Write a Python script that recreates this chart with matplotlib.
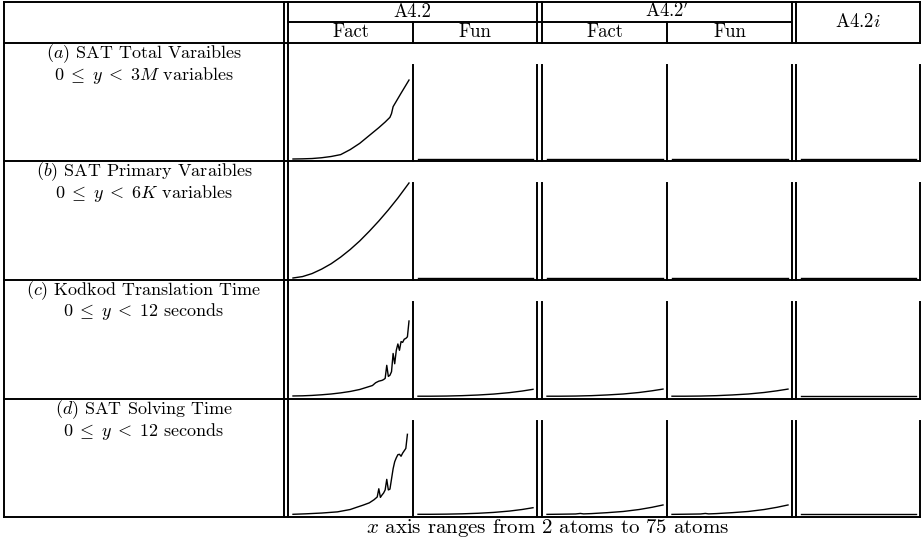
import matplotlib
matplotlib.use("Agg")
import matplotlib.pyplot as plt
from matplotlib.lines import Line2D

# Размер картинки в пикселях
W = 922
H = 540

# Заголовки таблицы
group_labels = ['A4.2', r'A4.2$^{\prime}$', r'A4.2$i$']
sub_labels = ['Fact', 'Fun', 'Fact', 'Fun']
row_titles = [r'$(a)$ SAT Total Varaibles',
              r'$(b)$ SAT Primary Varaibles',
              r'$(c)$ Kodkod Translation Time',
              r'$(d)$ SAT Solving Time']
row_ranges = [r'$0\;\leq\;y\;<\;3M$ variables',
              r'$0\;\leq\;y\;<\;6K$ variables',
              r'$0\;\leq\;y\;<\;12$ seconds',
              r'$0\;\leq\;y\;<\;12$ seconds']
row_ymax = [3, 6, 12, 12]
caption = r'$x$ axis ranges from 2 atoms to 75 atoms'

# Ряды (a), (b): почти нулевые значения
atoms_flat = [2, 20, 40, 60, 75]
flat_zero = [0.0, 0.0, 0.0, 0.0, 0.0]
flat_small = [0.1, 0.1, 0.1, 0.1, 0.1]

# (a) SAT Total Varaibles, A4.2 Fact, млн
atoms_a_fact = [2, 8, 14, 20, 26, 32, 38, 44, 50, 56, 60, 63, 64, 65, 70, 75]
total_vars_fact = [0.0, 0.005, 0.015, 0.04, 0.08, 0.14, 0.3, 0.5, 0.75,
                   1.0, 1.18, 1.33, 1.45, 1.67, 2.1, 2.52]

# (b) SAT Primary Varaibles, A4.2 Fact, тыс
atoms_b_fact = [2, 8, 14, 20, 26, 32, 38, 44, 50, 56, 62, 68, 75]
primary_vars_fact = [0.0, 0.09, 0.28, 0.56, 0.9, 1.32, 1.8, 2.34, 2.95,
                     3.6, 4.3, 5.05, 6.0]

# (c) Kodkod Translation Time, секунды
atoms_c_fact = [2, 8, 14, 20, 26, 32, 38, 44, 48, 52, 54, 56, 58, 59, 60,
                61, 62, 63, 64, 65, 66, 67, 68, 69, 70, 71, 72, 73, 74, 75]
translate_fact = [0.13, 0.15, 0.2, 0.28, 0.38, 0.52, 0.7, 0.95, 1.2, 1.45,
                  1.8, 2.0, 2.1, 2.2, 2.35, 4.0, 2.6, 2.75, 3.2, 5.5, 4.2,
                  5.9, 6.7, 5.9, 7.0, 6.9, 7.3, 7.4, 7.6, 9.6]
atoms_rise = [2, 10, 20, 30, 40, 50, 60, 68, 75]
translate_fun = [0.1, 0.1, 0.12, 0.17, 0.25, 0.37, 0.55, 0.75, 0.97]
translate_prime_fact = [0.1, 0.1, 0.12, 0.17, 0.26, 0.38, 0.57, 0.78, 1.0]
translate_prime_fun = [0.1, 0.1, 0.12, 0.17, 0.26, 0.38, 0.57, 0.78, 1.0]

# (d) SAT Solving Time, секунды
atoms_d_fact = [2, 10, 20, 30, 38, 42, 46, 50, 53, 55, 56, 57, 58, 59, 60,
                61, 62, 63, 64, 65, 66, 67, 68, 69, 70, 71, 72, 73, 74]
solve_fact = [0.09, 0.15, 0.25, 0.4, 0.7, 0.98, 1.25, 1.55, 1.95, 2.3,
              3.35, 2.25, 2.55, 2.8, 3.2, 4.55, 3.2, 3.3, 4.6, 5.9, 6.8,
              7.3, 7.7, 7.75, 7.5, 7.9, 8.2, 8.5, 10.3]
solve_fun = [0.09, 0.09, 0.11, 0.15, 0.22, 0.33, 0.5, 0.7, 0.93]
atoms_d_prime = [2, 10, 20, 23, 25, 30, 40, 50, 60, 68, 75]
solve_prime_fact = [0.08, 0.1, 0.13, 0.2, 0.14, 0.18, 0.3, 0.45, 0.7, 0.98, 1.28]
solve_prime_fun = [0.08, 0.1, 0.13, 0.2, 0.14, 0.18, 0.3, 0.45, 0.7, 0.98, 1.28]

# Что рисуем в каждой клетке: ряд -> 5 колонок
cells = [
    [(atoms_a_fact, total_vars_fact), (atoms_flat, flat_zero),
     (atoms_flat, flat_zero), (atoms_flat, flat_zero), (atoms_flat, flat_zero)],
    [(atoms_b_fact, primary_vars_fact), (atoms_flat, flat_zero),
     (atoms_flat, flat_zero), (atoms_flat, flat_zero), (atoms_flat, flat_zero)],
    [(atoms_c_fact, translate_fact), (atoms_rise, translate_fun),
     (atoms_rise, translate_prime_fact), (atoms_rise, translate_prime_fun),
     (atoms_flat, flat_small)],
    [(atoms_d_fact, solve_fact), (atoms_rise, solve_fun),
     (atoms_d_prime, solve_prime_fact), (atoms_d_prime, solve_prime_fun),
     (atoms_flat, flat_small)],
]


def fx(px):
    return px / W


def fy(py):
    return 1 - py / H


def main():
    plt.rcParams['font.family'] = 'serif'
    plt.rcParams['font.serif'] = ['cmr10']
    plt.rcParams['mathtext.fontset'] = 'cm'
    plt.rcParams['axes.unicode_minus'] = False

    fig = plt.figure(figsize=(W / 100, H / 100), dpi=100)
    lw = 1.4
    fs = 13.5

    def hline(y, x0, x1):
        fig.add_artist(Line2D([fx(x0), fx(x1)], [fy(y), fy(y)], lw=lw, color='k'))

    def vline(x, y0, y1):
        fig.add_artist(Line2D([fx(x), fx(x)], [fy(y0), fy(y1)], lw=lw, color='k'))

    def put(x, y, s, size=fs):
        fig.text(fx(x), fy(y), s, ha='center', va='center', fontsize=size)

    # Границы колонок и рядов (пиксели)
    left, right = 4, 920
    top, mid, head = 2, 22, 43
    rows = [43, 161, 280, 399, 517]
    col_edges = [(288, 413), (413, 537), (542, 667), (667, 792), (796, 920)]

    # Шапка
    hline(top, left, right)
    hline(mid, 288, 792)
    hline(head, left, right)
    for x in [left, 284, 288, 537, 542, 792, 796, right]:
        vline(x, top, head)
    for x in [413, 667]:
        vline(x, mid, head)

    put(412, 12, group_labels[0])
    put(667, 11, group_labels[1])
    put(858, 22, group_labels[2])
    for (c0, c1), lab in zip(col_edges[:4], sub_labels):
        put((c0 + c1) / 2, 32, lab)

    # Ряды с графиками
    for i in range(4):
        r0, r1 = rows[i], rows[i + 1]
        hline(r1, left, right)
        for x in [left, 284, 288]:
            vline(x, r0, r1)
        for x in [413, 537, 542, 667, 792, 796, right]:
            vline(x, r0 + 22, r1)

        put(144, r0 + 11, row_titles[i], 13)
        put(144, r0 + 32, row_ranges[i], 13)

        for j, (c0, c1) in enumerate(col_edges):
            x0, x1 = c0 + 5, c1 - 4
            y_top, y_bot = r0 + 22, r1 - 2
            ax = fig.add_axes([fx(x0), fy(y_bot), fx(x1) - fx(x0), fy(y_top) - fy(y_bot)])
            ax.axis('off')
            ax.set_xlim(2, 75)
            ax.set_ylim(0, row_ymax[i])
            xs, ys = cells[i][j]
            ax.plot(xs, ys, color='black', lw=1.0, clip_on=False)

    put(548, 528, caption, 15)

    fig.savefig('out.png', dpi=100)


if __name__ == "__main__":
    main()
